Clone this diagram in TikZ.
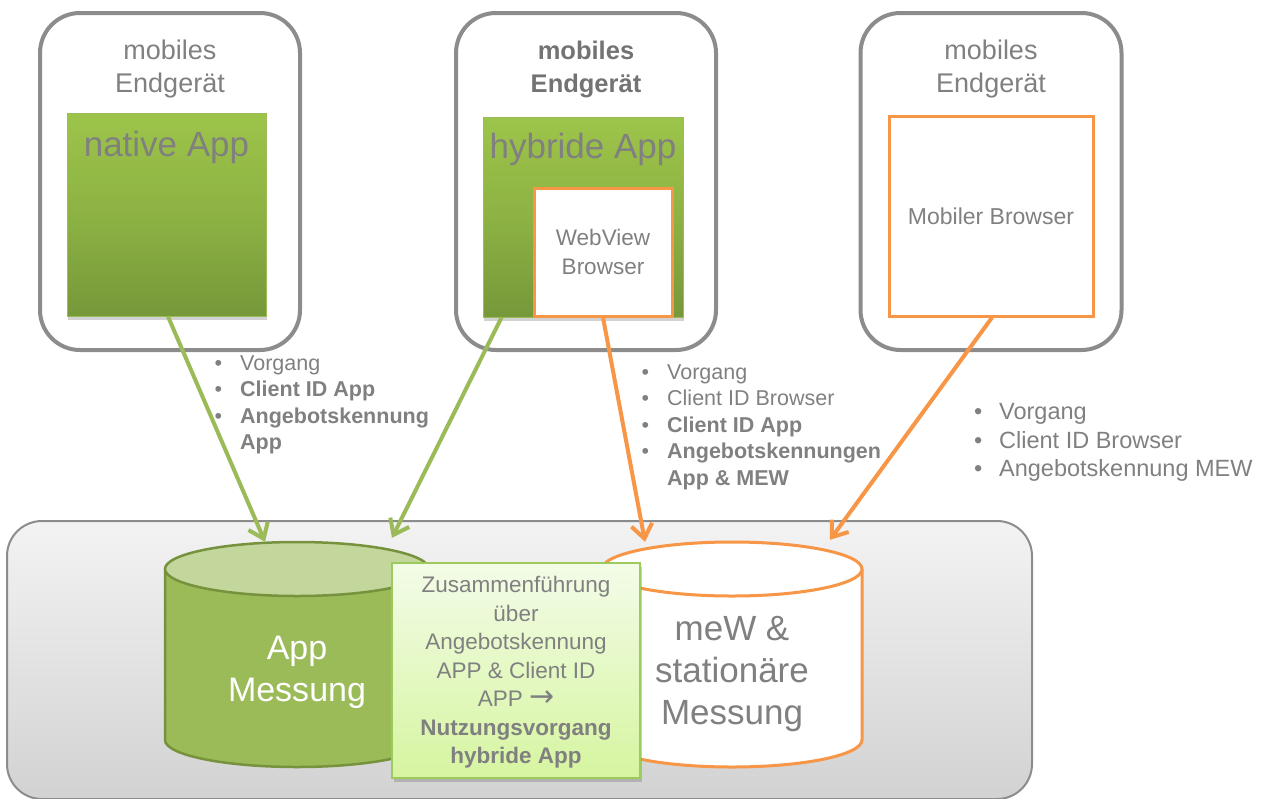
\documentclass[tikz,border=0pt]{standalone}
\usepackage{fontspec}
\setmainfont{Liberation Sans}
\newfontfamily\arrowfont{DejaVu Sans}
\usetikzlibrary{arrows.meta,shadows,calc}

\definecolor{framegray}{HTML}{8C8C8C}
\definecolor{txtgray}{HTML}{808080}
\definecolor{hdrbold}{HTML}{737373}
\definecolor{appgreen}{HTML}{9BBB59}
\definecolor{appgreendark}{HTML}{76923C}
\definecolor{applight}{HTML}{C3D69B}
\definecolor{orng}{HTML}{F79646}
\definecolor{gtop}{HTML}{9DC44A}
\definecolor{gmid}{HTML}{8DB243}
\definecolor{gbot}{HTML}{76983A}
\definecolor{ztop}{HTML}{F3FCE8}
\definecolor{zbot}{HTML}{D6F5A0}
\definecolor{zdraw}{HTML}{9CCB5C}
\definecolor{ctop}{HTML}{F3F3F3}
\definecolor{cbot}{HTML}{D2D2D2}

\newcommand{\bul}{\makebox[25.5pt][l]{•}}
\newcommand{\bulb}{\makebox[25pt][l]{•}}

\tikzset{
  device/.style={draw=framegray, line width=4pt, rounded corners=40pt, fill=white, inner sep=0pt},
  appbox/.style={top color=gtop, bottom color=gbot, middle color=gmid, draw=appgreen, line width=1pt, inner sep=0pt,
     drop shadow={opacity=0.35, shadow xshift=1pt, shadow yshift=-4pt}},
  webbox/.style={draw=orng, line width=3pt, fill=white, inner sep=0pt, text=txtgray, align=center},
  hdr/.style={text=txtgray, align=center, font=\fontsize{27}{33}\selectfont},
  hdrb/.style={text=hdrbold, align=center, font=\fontsize{25.5}{33}\selectfont\bfseries},
  bigtxt/.style={text=txtgray, font=\fontsize{35}{42}\selectfont},
  cont/.style={draw=framegray, line width=2pt, rounded corners=35pt, top color=ctop, bottom color=cbot, inner sep=0pt},
  merge/.style={draw=zdraw, line width=1.5pt, top color=ztop, bottom color=zbot, inner sep=0pt,
     drop shadow={opacity=0.4, shadow xshift=2pt, shadow yshift=-4pt}},
  garrow/.style={draw=appgreen, line width=4pt, -{Straight Barb[length=14pt,width=21pt]}},
  oarrow/.style={draw=orng, line width=4pt, -{Straight Barb[length=14pt,width=21pt]}},
  bulletlist/.style={text=txtgray, align=left, anchor=north west, inner sep=0pt},
  dbholder/.style={inner sep=0pt, minimum width=264pt, minimum height=225pt},
}

\begin{document}
\begin{tikzpicture}[x=1pt,y=-1pt]
\useasboundingbox (0,0) rectangle (1266,798);

% device frames
\node[device, minimum width=260pt, minimum height=337pt] (d1) at (170,181.5) {};
\node[device, minimum width=260pt, minimum height=337pt] (d2) at (586,181.5) {};
\node[device, minimum width=261pt, minimum height=337pt] (d3) at (991,181.5) {};

\node[hdr] (h1) at (170,69) {mobiles\\Endgerät};
\node[hdrb] (h2) at (586,69) {mobiles\\Endgerät};
\node[hdr] (h3) at (991,69) {mobiles\\Endgerät};

% native app
\node[appbox, minimum width=199pt, minimum height=203pt] (native) at (166.5,214.5) {};
\node[bigtxt] (nativet) at (166.5,147) {native App};

% hybrid app
\node[appbox, minimum width=200pt, minimum height=200pt] (hybrid) at (583,217) {};
\node[bigtxt] (hybridt) at (583,149) {hybride App};
\node[webbox, minimum width=138pt, minimum height=128pt, font=\fontsize{22.5}{29}\selectfont] (webview) at (603,252) {WebView\\Browser};

% mobile browser
\node[webbox, minimum width=204pt, minimum height=200pt, font=\fontsize{23}{29}\selectfont] (mobbrowser) at (991,216) {Mobiler Browser};

% container
\node[cont, minimum width=1025pt, minimum height=278pt] (cont) at (519.5,660) {};

% App Messung cylinder
\node[dbholder] (appdb) at (297,654.5) {};
\fill[appgreen] (165,569) -- (165,740) arc[start angle=180, end angle=360, x radius=132pt, y radius=27pt] -- (429,569) -- cycle;
\draw[appgreendark, line width=2.5pt] (165,569) -- (165,740) arc[start angle=180, end angle=360, x radius=132pt, y radius=27pt] -- (429,569);
\filldraw[fill=applight, draw=appgreendark, line width=2.5pt] (297,569) ellipse [x radius=132pt, y radius=27pt];
\node[text=white, align=center, font=\fontsize{34}{42}\selectfont] (appdbt) at (297,672) {App\\Messung};

% meW cylinder
\node[dbholder, minimum width=260pt] (mewdb) at (732,654.5) {};
\fill[white] (602,569) -- (602,740) arc[start angle=180, end angle=360, x radius=130pt, y radius=27pt] -- (862,569) -- cycle;
\draw[orng, line width=3pt] (602,569) -- (602,740) arc[start angle=180, end angle=360, x radius=130pt, y radius=27pt] -- (862,569);
\filldraw[fill=white, draw=orng, line width=3pt] (732,569) ellipse [x radius=130pt, y radius=27pt];
\node[text=txtgray, align=center, font=\fontsize{35}{42}\selectfont] (mewdbt) at (732,674) {meW \&\\stationäre\\Messung};

% merge box
\node[merge, minimum width=248pt, minimum height=215pt] (merge) at (516,670.5) {};
\node[text=txtgray, align=center, font=\fontsize{22.5}{28.5}\selectfont] (mergetxt) at (516,672.5)
  {Zusammenführung\\über\\Angebotskennung\\APP \& Client ID\\APP {\arrowfont\fontsize{30}{28.5}\selectfont →}\\\textbf{Nutzungsvorgang}\\\textbf{hybride App}};

% arrows
\draw[garrow] ([xshift=1.5pt]native.south) -- ([xshift=-32pt]appdb.north);
\draw[garrow] ([xshift=19pt]hybrid.south west) -- ([xshift=95pt,yshift=4pt]appdb.north);
\draw[oarrow] (webview.south) -- ([xshift=-87pt]mewdb.north);
\draw[oarrow] ([xshift=1pt]mobbrowser.south) -- ([xshift=98pt,yshift=2pt]mewdb.north);

% bullet lists
\node[bulletlist, font=\fontsize{21.5}{26.5}\selectfont] (l1) at (214.5,355.3)
  {\bul Vorgang\\\bul\textbf{Client ID App}\\\bul\textbf{Angebotskennung}\\\hspace*{25.5pt}\textbf{App}};
\node[bulletlist, font=\fontsize{21.5}{26.5}\selectfont] (l2) at (641.5,364.3)
  {\bul Vorgang\\\bul Client ID Browser\\\bul\textbf{Client ID App}\\\bul\textbf{Angebotskennungen}\\\hspace*{25.5pt}\textbf{App \& MEW}};
\node[bulletlist, font=\fontsize{23.5}{28.5}\selectfont] (l3) at (974,403.6)
  {\bulb Vorgang\\\bulb Client ID Browser\\\bulb Angebotskennung MEW};
\end{tikzpicture}
\end{document}
